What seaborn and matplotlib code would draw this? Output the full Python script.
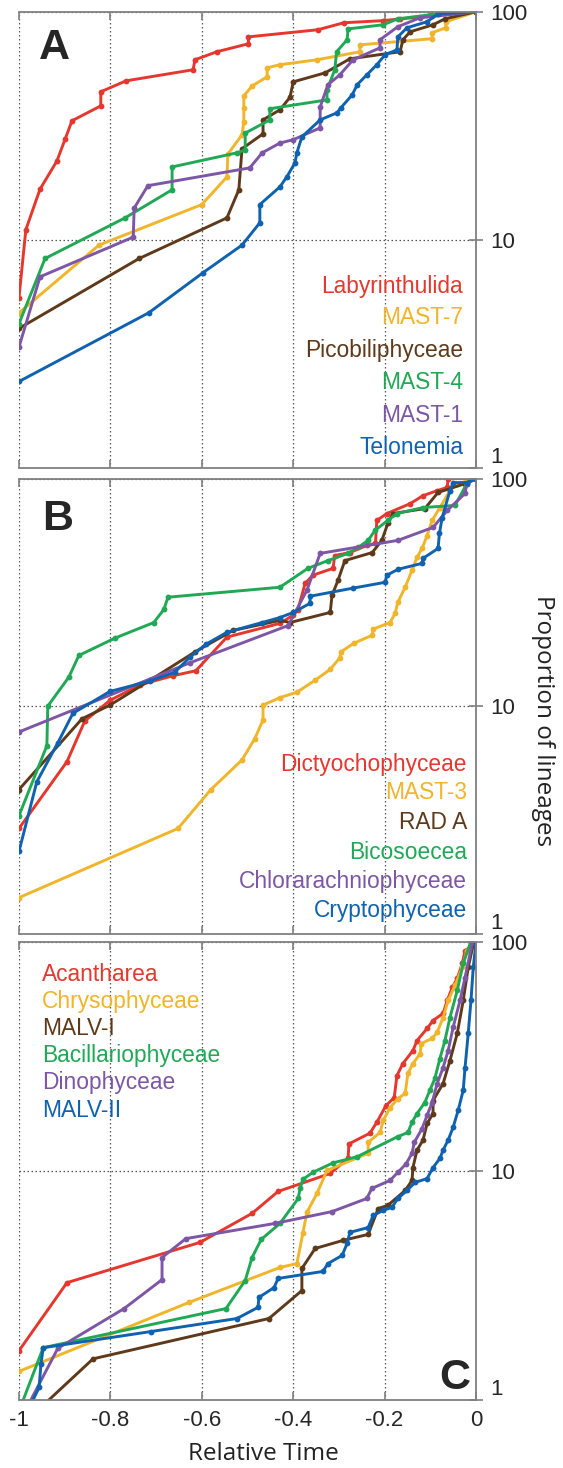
import numpy as np
import pandas as pd
import matplotlib
matplotlib.use("Agg")
import matplotlib.pyplot as plt
import matplotlib.ticker as mticker
import seaborn as sns

# ---- panel A ----
a_names = ["Labyrinthulida", "MAST-7", "Picobiliphyceae", "MAST-4", "MAST-1", "Telonemia"]
laby_x = [-1, -0.985, -0.954, -0.917, -0.899, -0.884, -0.821, -0.821, -0.766, -0.619, -0.615, -0.567,
          -0.498, -0.498, -0.346, -0.289, -0.204, -0.166, -0.096, 0]
laby_y = [5.6, 11.1, 16.7, 22.2, 27.7, 33.3, 38.7, 44.6, 49.8, 55.7, 61.6, 66.8,
          72.4, 77.6, 83.4, 89.5, 91.4, 93, 96, 100]
mast7_x = [-1, -0.825, -0.600, -0.545, -0.543, -0.512, -0.508, -0.508, -0.508, -0.490, -0.457, -0.457,
           -0.429, -0.348, -0.254, -0.254, -0.096, -0.096, -0.066, -0.066, 0]
mast7_y = [4.8, 9.5, 14.3, 18.9, 23.8, 28.9, 33, 37.9, 42.8, 47.3, 51.9, 56.8,
           58.6, 61.6, 66.8, 71.6, 76.2, 80.9, 85.1, 90.4, 100]
pico_x = [-1, -0.737, -0.545, -0.519, -0.512, -0.466, -0.466, -0.429, -0.407, -0.400, -0.330, -0.276,
          -0.166, -0.160, -0.144, -0.094, -0.068, 0]
pico_y = [4.1, 8.3, 12.5, 16.6, 25.1, 29.2, 33.6, 37.2, 42.2, 49.3, 54.0, 62.2,
          66.8, 75.4, 81.7, 87.7, 93.1, 100]
mast4_x = [-1, -0.943, -0.768, -0.665, -0.665, -0.523, -0.505, -0.505, -0.451, -0.451, -0.326, -0.326,
           -0.309, -0.305, -0.282, -0.280, -0.203, -0.171, -0.101, 0]
mast4_y = [4.3, 8.3, 12.5, 16.6, 20.9, 24.1, 24.8, 29.4, 33.6, 37.6, 41.1, 45.5,
           55.7, 66.8, 75.4, 84.1, 87.7, 93.1, 97, 100]
mast1_x = [-1, -0.954, -0.750, -0.748, -0.718, -0.495, -0.468, -0.429, -0.400, -0.341, -0.341, -0.324,
           -0.298, -0.269, -0.210, -0.210, -0.171, -0.123, 0]
mast1_y = [3.4, 6.9, 10.3, 13.8, 17.3, 20.7, 24.1, 26.6, 27.5, 31, 38.3, 47.9,
           52.9, 61.6, 69.5, 75.4, 86, 94, 100]
telo_x = [-1, -0.716, -0.597, -0.512, -0.473, -0.473, -0.429, -0.414, -0.396, -0.392, -0.381, -0.341,
          -0.304, -0.296, -0.271, -0.260, -0.239, -0.217, -0.199, -0.173, -0.171, -0.151, -0.107, -0.083, 0]
telo_y = [2.4, 4.8, 7.2, 9.5, 11.9, 14.3, 17.1, 18.9, 21.8, 24.1, 28.3, 33.6,
          36.1, 37.9, 43.2, 47.9, 52.9, 58.6, 64.8, 68.1, 77.6, 85.1, 90.4, 98, 100]

# ---- panel B ----
b_names = ["Dictyochophyceae", "MAST-3", "RAD A", "Bicosoecea", "Chlorarachniophyceae", "Cryptophyceae"]
dict_x = [-1, -0.895, -0.856, -0.801, -0.735, -0.663, -0.613, -0.545, -0.429, -0.400, -0.390, -0.374,
          -0.357, -0.313, -0.309, -0.276, -0.239, -0.220, -0.217, -0.195, -0.144, -0.116, -0.085, -0.063,
          -0.061, 0]
dict_y = [2.9, 5.7, 8.6, 10.6, 12.4, 13.6, 14.3, 20.1, 23.1, 25.1, 26.4, 34.6,
          37.6, 40.3, 45.9, 47.3, 50.8, 51.9, 65.5, 70.2, 77.6, 84.1, 88.5, 91.4,
          100, 100]
mast3_x = [-1, -0.652, -0.580, -0.512, -0.484, -0.466, -0.466, -0.429, -0.392, -0.352, -0.319, -0.298,
           -0.296, -0.267, -0.227, -0.225, -0.188, -0.177, -0.171, -0.155, -0.140, -0.129, -0.118, -0.107,
           -0.096, -0.079, -0.057, -0.041, 0]
mast3_y = [1.44, 2.9, 4.3, 5.8, 7.2, 8.7, 10.1, 10.9, 11.5, 13.0, 14.5, 16.3,
           17.3, 18.9, 20.5, 21.8, 23.3, 25.6, 28.6, 33.3, 39.5, 45.1, 49.3, 56.2,
           65.5, 74.6, 88.5, 95, 100]
rad_x = [-1, -0.862, -0.801, -0.713, -0.615, -0.532, -0.429, -0.407, -0.319, -0.315, -0.302, -0.287,
         -0.227, -0.206, -0.193, -0.182, -0.112, -0.083, -0.024, 0]
rad_y = [4.3, 8.8, 10.1, 13.0, 17.3, 21.5, 23.8, 23.3, 25.8, 30.7, 35.7, 43.6,
         47.3, 53.5, 63.5, 70.2, 73.8, 86.9, 95, 100]
bico_x = [-1, -0.939, -0.937, -0.891, -0.869, -0.790, -0.705, -0.683, -0.674, -0.429, -0.368, -0.324,
          -0.280, -0.258, -0.236, -0.221, -0.193, -0.173, -0.116, -0.046, -0.020, 0]
bico_y = [3.3, 6.7, 10.0, 13.4, 16.7, 19.9, 23.3, 26.6, 30.1, 33.3, 40.3, 43.6,
          46.9, 49.8, 53.5, 59.2, 65.5, 70.2, 74.6, 76.2, 95, 100]
chlo_x = [-1, -0.626, -0.411, -0.370, -0.341, -0.171, -0.094, -0.063, -0.024, -0.020, 0]
chlo_y = [7.7, 15.5, 22.6, 32.3, 46.9, 53.5, 61, 72.4, 86, 95, 100]
cryp_x = [-1, -0.961, -0.915, -0.882, -0.801, -0.713, -0.659, -0.626, -0.591, -0.545, -0.468, -0.429,
          -0.400, -0.363, -0.363, -0.269, -0.199, -0.195, -0.171, -0.118, -0.116, -0.083, -0.080, -0.074,
          -0.057, -0.050, -0.020, 0]
cryp_y = [2.3, 4.65, 6.9, 9.3, 11.6, 12.9, 14.1, 16.4, 18.7, 21.1, 23.3, 24.5,
          25.8, 28.3, 30.4, 33.0, 35.0, 37.6, 39.9, 42.4, 44.6, 49.3, 57.4, 67.4,
          88.5, 96, 96, 100]

# ---- panel C ----
c_names = ["Acantharea", "Chrysophyceae", "MALV-I", "Bacillariophyceae", "Dinophyceae", "MALV-II"]
acan_x = [-1, -0.895, -0.604, -0.490, -0.433, -0.319, -0.280, -0.278, -0.232, -0.217, -0.197, -0.179,
          -0.173, -0.160, -0.138, -0.129, -0.107, -0.094, -0.072, -0.063, -0.052, -0.041, -0.030, -0.024, 0]
acan_y = [1.65, 3.27, 4.9, 6.56, 8.18, 9.8, 11.4, 13.2, 14.7, 16.4, 19.4, 21.0,
          26.2, 29.6, 33.7, 37.3, 42.1, 45.6, 49, 55.8, 63.6, 69.7, 81, 92, 100]
chry_x = [-1, -0.628, -0.429, -0.392, -0.379, -0.370, -0.348, -0.326, -0.236, -0.236, -0.210, -0.203,
          -0.188, -0.171, -0.155, -0.149, -0.138, -0.122, -0.120, -0.096, -0.085, -0.072, -0.061, -0.046,
          -0.030, -0.020, -0.008]
chry_y = [1.34, 2.68, 3.81, 3.96, 5.36, 6.62, 8.02, 10.1, 12.0, 13.4, 14.8, 16.7,
          19.0, 20.8, 21.9, 26.8, 29.6, 32.7, 36.2, 38.1, 40.5, 47, 55.8, 64.9,
          77.8, 92, 100]
malv1_x = [-1, -0.838, -0.453, -0.381, -0.381, -0.352, -0.291, -0.236, -0.214, -0.193, -0.155, -0.140,
           -0.138, -0.129, -0.116, -0.107, -0.094, -0.094, -0.072, -0.057, -0.041, -0.028, -0.017, -0.005]
malv1_y = [0.76, 1.52, 2.28, 3.02, 3.77, 4.61, 5.0, 5.31, 6.89, 7.11, 8.26, 9.14,
           10.4, 12.4, 13.7, 16.2, 17.9, 20.4, 24.2, 30.5, 40.1, 55.8, 77.8, 100]
bacil_x = [-1, -0.947, -0.547, -0.505, -0.490, -0.470, -0.429, -0.389, -0.385, -0.379, -0.357, -0.313,
           -0.260, -0.171, -0.149, -0.140, -0.129, -0.112, -0.101, -0.090, -0.079, -0.068, -0.057, -0.041,
           -0.028, -0.012]
bacil_y = [0.9, 1.7, 2.52, 3.34, 4.21, 5.05, 5.93, 7.62, 8.43, 9.23, 9.91, 10.9,
           11.6, 14.2, 14.8, 16.4, 17.9, 20, 22.6, 25.5, 31.1, 37.3, 47, 61.7,
           81, 100]
dino_x = [-1, -0.915, -0.770, -0.687, -0.687, -0.635, -0.440, -0.315, -0.239, -0.228, -0.188, -0.171,
          -0.153, -0.140, -0.135, -0.118, -0.107, -0.096, -0.085, -0.072, -0.061, -0.050, -0.035, -0.024, -0.008]
dino_y = [0.8, 1.69, 2.52, 3.37, 4.21, 5.09, 5.93, 6.68, 7.62, 8.43, 9.14, 9.91,
          10.8, 12.0, 13.4, 15.4, 17.6, 20, 24.2, 28.4, 33.7, 42.6, 55.8, 70.3, 100]
malv2_x = [-1, -0.956, -0.952, -0.947, -0.711, -0.523, -0.477, -0.475, -0.442, -0.433, -0.335, -0.324,
           -0.293, -0.282, -0.276, -0.236, -0.225, -0.203, -0.184, -0.171, -0.151, -0.133, -0.107, -0.094,
           -0.079, -0.072, -0.061, -0.050, -0.039, -0.028, -0.024, -0.017, -0.011, -0.006, 0]
malv2_y = [0.75, 1.14, 1.44, 1.7, 2.0, 2.28, 2.55, 2.82, 3.11, 3.41, 3.66, 3.96,
           4.3, 4.85, 5.42, 5.69, 6.43, 6.76, 6.97, 7.62, 8.26, 8.96, 9.31, 10.4,
           11.4, 12.4, 13.7, 15.6, 18.5, 22.6, 28.4, 40.1, 55.8, 77.8, 100]

colors = ["#E5372D", "#F0B52A", "#5E3A1A", "#1FA955", "#7D56A5", "#0E62B0"]

panels = [
    ("A", a_names, [(laby_x, laby_y), (mast7_x, mast7_y), (pico_x, pico_y),
                    (mast4_x, mast4_y), (mast1_x, mast1_y), (telo_x, telo_y)]),
    ("B", b_names, [(dict_x, dict_y), (mast3_x, mast3_y), (rad_x, rad_y),
                    (bico_x, bico_y), (chlo_x, chlo_y), (cryp_x, cryp_y)]),
    ("C", c_names, [(acan_x, acan_y), (chry_x, chry_y), (malv1_x, malv1_y),
                    (bacil_x, bacil_y), (dino_x, dino_y), (malv2_x, malv2_y)]),
]

sns.set_style("white")
plt.rcParams["font.family"] = ["Liberation Sans", "DejaVu Sans"]
plt.rcParams["axes.unicode_minus"] = False

fig = plt.figure(figsize=(5.63, 14.68), dpi=100)
boxes = [(0.992, 0.681), (0.674, 0.364), (0.358, 0.046)]
left, right = 19 / 563, 476 / 563

legend_pos = {
    "A": dict(x=0.972, ys=[0.384, 0.316, 0.243, 0.173, 0.101, 0.031], ha="right"),
    "B": dict(x=0.980, ys=[0.357, 0.296, 0.230, 0.164, 0.101, 0.037], ha="right"),
    "C": dict(x=0.050, ys=[0.915, 0.856, 0.797, 0.738, 0.679, 0.618], ha="left"),
}

for (label, names, series), (top, bot) in zip(panels, boxes):
    ax = fig.add_axes([left, bot, right - left, top - bot])
    for (xs, ys), name, col in zip(series, names, colors):
        df = pd.DataFrame({"t": xs, "p": ys})
        sns.lineplot(data=df, x="t", y="p", ax=ax, estimator=None, sort=False,
                     color=col, lw=2.1, marker="o", markersize=4.2,
                     markeredgewidth=0, legend=False)
    ax.set_yscale("log")
    ax.set_xlim(-1, 0)
    ax.set_ylim(1, 100)
    ax.set_xticks([-1, -0.8, -0.6, -0.4, -0.2, 0])
    ax.set_yticks([1, 10, 100])
    ax.yaxis.set_minor_locator(mticker.NullLocator())
    ax.yaxis.set_major_formatter(mticker.FuncFormatter(lambda v, p: f"{v:g}"))
    ax.xaxis.set_major_formatter(mticker.FuncFormatter(lambda v, p: f"{v:g}"))
    ax.grid(True, which="major", color="#555555", ls=(0, (1.2, 2)), lw=0.9)
    ax.set_axisbelow(True)
    for s in ["top", "bottom", "right"]:
        ax.spines[s].set_color("#808080")
        ax.spines[s].set_linewidth(1.3)
    ax.spines["left"].set_visible(False)
    ax.tick_params(axis="x", direction="in", top=True, bottom=True, length=6,
                   color="#808080", width=1.2, labelsize=16, pad=7,
                   labelbottom=(label == "C"))
    ax.tick_params(axis="y", direction="inout", left=False, right=True, length=10,
                   color="#808080", width=1.2, labelsize=16, labelleft=False,
                   labelright=True, pad=5)
    for t in ax.get_yticklabels():
        if t.get_text() == "1":
            t.set_va("bottom")
    ax.set_xlabel("")
    ax.set_ylabel("")

    lp = legend_pos[label]
    for name, col, y in zip(names, colors, lp["ys"]):
        ax.text(lp["x"], y, name, color=col, fontsize=16.4, ha=lp["ha"],
                va="baseline", transform=ax.transAxes)

    if label == "C":
        ax.text(0.987, 0.026, label, fontsize=31, fontweight="bold",
                ha="right", va="baseline", transform=ax.transAxes)
        ax.set_xlabel("Relative Time", fontsize=17.5, family=["Open Sans", "DejaVu Sans"],
                      color="#222222")
        ax.xaxis.set_label_coords(0.534, -0.090)
    else:
        ax.text(0.044 if label == "A" else 0.050, 0.897 if label == "A" else 0.888,
                label, fontsize=31, fontweight="bold", ha="left", va="baseline",
                transform=ax.transAxes)
    if label == "B":
        ax.yaxis.set_label_position("right")
        ax.set_ylabel("Proportion of lineages", fontsize=17.5, rotation=-90,
                      family=["Open Sans", "DejaVu Sans"], color="#222222",
                      va="center", ha="center")
        ax.yaxis.set_label_coords(1.147, 0.469)

fig.savefig("out.png", dpi=100)
